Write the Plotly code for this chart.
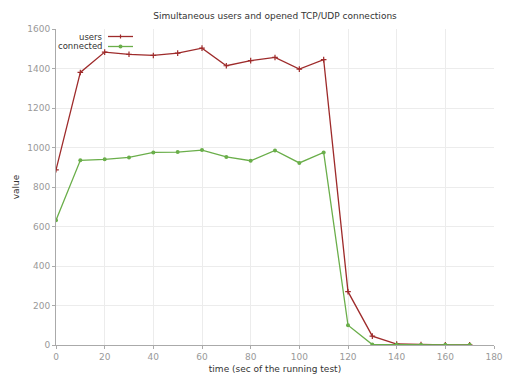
import plotly.graph_objects as go

time = [0, 10, 20, 30, 40, 50, 60, 70, 80, 90, 100, 110, 120, 130, 140, 150, 160, 170]
users = [887, 1380, 1483, 1472, 1466, 1478, 1503, 1414, 1440, 1456, 1397, 1445, 270, 45, 5, 2, 1, 1]
connected = [632, 935, 940, 950, 975, 977, 987, 952, 933, 985, 922, 975, 100, 2, 2, 1, 1, 1]
x_ticks = [0, 20, 40, 60, 80, 100, 120, 140, 160, 180]
y_ticks = [0, 200, 400, 600, 800, 1000, 1200, 1400, 1600]

RED = "#9e2b2b"
GREEN = "#6aae4a"
FONT = "DejaVu Sans"

fig = go.Figure()
fig.add_trace(go.Scatter(x=time, y=users, mode="lines+markers", name="users",
                         line=dict(color=RED, width=1.3),
                         marker=dict(symbol="cross-thin", size=4, line=dict(color=RED, width=1.2))))
fig.add_trace(go.Scatter(x=time, y=connected, mode="lines+markers", name="connected",
                         line=dict(color=GREEN, width=1.3),
                         marker=dict(symbol="circle", size=4, color=GREEN)))

axis_common = dict(showgrid=True, gridcolor="#ececec", gridwidth=1, zeroline=False,
                   showline=True, linecolor="#aaaaaa", linewidth=1, automargin=False,
                   ticks="outside", ticklen=3, tickcolor="#aaaaaa",
                   tickfont=dict(family=FONT, size=9, color="#999999"))
fig.update_xaxes(range=[0, 180], tickvals=x_ticks, **axis_common,
                 title=dict(text="time (sec of the running test)", font=dict(family=FONT, size=9, color="#333"), standoff=4))
fig.update_yaxes(range=[0, 1600], tickvals=y_ticks, **axis_common,
                 title=dict(text="value", font=dict(family=FONT, size=9, color="#333"), standoff=6))

# legend emulation (gnuplot style: text then sample with marker)
W = 494 - 56
H = 345 - 29
leg = [("users", RED, 36.5, "cross"), ("connected", GREEN, 46.5, "circle")]
for name, col, ypix, sym in leg:
    yp = 1 - (ypix - 29) / H
    fig.add_annotation(x=(104 - 56) / W, y=yp, xref="paper", yref="paper",
                       text=name, showarrow=False, xanchor="right", yanchor="middle",
                       borderpad=0, font=dict(family=FONT, size=8.5, color="#333"))
    fig.add_shape(type="line", xref="paper", yref="paper",
                  x0=(108 - 56) / W, x1=(133 - 56) / W, y0=yp, y1=yp,
                  line=dict(color=col, width=1.3))
    cx = (120.5 - 56) / W
    if sym == "cross":
        fig.add_shape(type="line", xref="paper", yref="paper",
                      x0=cx, x1=cx, y0=yp - 2 / H, y1=yp + 2 / H, line=dict(color=col, width=1.2))
    else:
        fig.add_shape(type="circle", xref="paper", yref="paper",
                      x0=cx - 2 / W, x1=cx + 2 / W, y0=yp - 2 / H, y1=yp + 2 / H,
                      fillcolor=col, line=dict(color=col, width=0))

fig.update_layout(
    width=507, height=374,
    margin=dict(l=56, r=13, t=29, b=29),
    paper_bgcolor="white", plot_bgcolor="white",
    showlegend=False,
    title=dict(text="Simultaneous users and opened TCP/UDP connections", x=275 / 507, xanchor="center",
               y=1 - 16 / 374, yanchor="middle", font=dict(family=FONT, size=9, color="#333")),
)
fig.write_html("out.html")
